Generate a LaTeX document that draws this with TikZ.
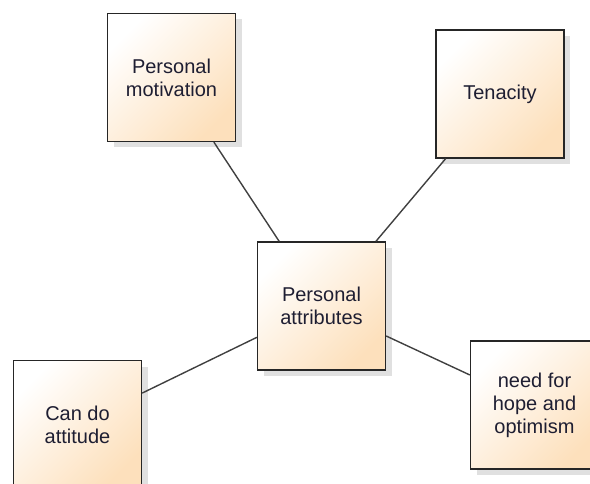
\documentclass[tikz,border=0pt]{standalone}
\usepackage{fontspec}
\setmainfont{Liberation Sans}
\usetikzlibrary{shadows}
\definecolor{peach}{RGB}{253,224,188}
\definecolor{inkblue}{RGB}{30,30,50}
\tikzset{
  attribute/.style={rectangle, draw=black!85, line width=1.3pt,
    minimum width=128pt, minimum height=128pt, inner sep=0pt,
    align=center, text=inkblue, font=\fontsize{20}{23}\selectfont,
    top color=white, bottom color=peach, shading angle=45,
    drop shadow={shadow xshift=6pt, shadow yshift=-6pt, opacity=0.12, fill=black}},
  link/.style={draw=black!75, line width=1.4pt}
}
\begin{document}
\begin{tikzpicture}[x=1pt, y=-1pt]
\useasboundingbox (0,0) rectangle (590,484);
\draw (171.5,77.5) node(motivation) [attribute] {Personal\\motivation};
\draw (500,94) node(tenacity) [attribute] {Tenacity};
\draw (321.5,306) node(attributes) [attribute] {Personal\\attributes};
\draw (77.5,424.5) node(cando) [attribute] {Can do\\attitude};
\draw (534.5,405) node(hope) [attribute] {need for\\hope and\\optimism};
\draw[link] (motivation) -- (attributes);
\draw[link] (tenacity) -- (attributes);
\draw[link] (cando) -- (attributes);
\draw[link] (hope) -- (attributes);
\end{tikzpicture}
\end{document}
